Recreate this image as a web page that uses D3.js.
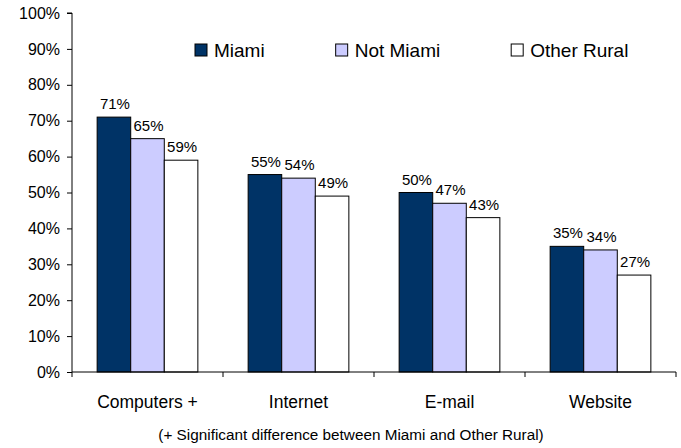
<!DOCTYPE html>
<html>
<head>
<meta charset="utf-8">
<script src="https://cdn.jsdelivr.net/npm/d3@7/dist/d3.min.js"></script>
<style>
  html, body { margin: 0; padding: 0; background: #fff; }
  svg { display: block; font-family: Arial, "Liberation Sans", sans-serif; }
</style>
</head>
<body>
<svg id="chart" width="681" height="448"></svg>
<script>
// ---- Data ----
const categories = ["Computers +", "Internet", "E-mail", "Website"];
const seriesNames = ["Miami", "Not Miami", "Other Rural"];
const miami = [71, 55, 50, 35];
const notMiami = [65, 54, 47, 34];
const otherRural = [59, 49, 43, 27];
const yTicks = [0, 10, 20, 30, 40, 50, 60, 70, 80, 90, 100];
const footnote = "(+ Significant difference between Miami and Other Rural)";

const seriesValues = [miami, notMiami, otherRural];
const colors = ["#003366", "#CCCCFF", "#FFFFFF"];

// ---- Layout ----
const svg = d3.select("#chart");
const mLeft = 72, mRight = 676, mTop = 13, mBottom = 372;

const x = d3.scaleBand().domain(categories).range([mLeft, mRight]).paddingInner(0).paddingOuter(0);
const groupInner = 0.667;
const xs = d3.scaleBand().domain(seriesNames)
  .range([x.bandwidth() * (1 - groupInner) / 2, x.bandwidth() * (1 + groupInner) / 2]);
const y = d3.scaleLinear().domain([0, 100]).range([mBottom, mTop]);

// Y axis
const yAxis = d3.axisLeft(y).tickValues(yTicks).tickSize(5).tickPadding(7)
  .tickFormat(d => d + "%");
const gy = svg.append("g").attr("transform", `translate(${mLeft},0)`).call(yAxis);
gy.select(".domain").attr("stroke", "#000").attr("d", `M-5,${mTop}H0V${mBottom}`);
gy.selectAll(".tick line").attr("stroke", "#000");
gy.selectAll(".tick text").attr("font-size", 16).attr("fill", "#000")
  .attr("font-family", "Arial, 'Liberation Sans', sans-serif");

// Bars
const groups = svg.append("g").selectAll("g")
  .data(categories).join("g")
  .attr("transform", d => `translate(${x(d)},0)`);

groups.each(function(cat, ci) {
  const g = d3.select(this);
  seriesNames.forEach((s, si) => {
    const v = seriesValues[si][ci];
    g.append("rect")
      .attr("x", xs(s))
      .attr("y", y(v))
      .attr("width", xs.bandwidth())
      .attr("height", mBottom - y(v))
      .attr("fill", colors[si])
      .attr("stroke", "#000")
      .attr("stroke-width", 1);
    g.append("text")
      .attr("x", xs(s) + xs.bandwidth() / 2 + 1)
      .attr("y", y(v) - 8)
      .attr("text-anchor", "middle")
      .attr("font-size", 15)
      .attr("fill", "#000")
      .text(v + "%");
  });
});

// X axis
const xAxis = d3.axisBottom(x).tickSize(0).tickPadding(24);
const gx = svg.append("g").attr("transform", `translate(0,${mBottom})`).call(xAxis);
gx.select(".domain").attr("stroke", "#000").attr("d", `M${mLeft},0H${mRight}`);
gx.selectAll(".tick text").attr("font-size", 17.5).attr("fill", "#000")
  .attr("font-family", "Arial, 'Liberation Sans', sans-serif");
const sepTicks = categories.map(c => x(c)).concat([mRight]);
gx.selectAll(".sep").data(sepTicks).join("line")
  .attr("class", "sep")
  .attr("x1", d => d).attr("x2", d => d)
  .attr("y1", 0).attr("y2", 5)
  .attr("stroke", "#000");

// Legend
const legend = svg.append("g");
let lx = 195;
seriesNames.forEach((s, i) => {
  legend.append("rect")
    .attr("x", lx).attr("y", 44)
    .attr("width", 12).attr("height", 12)
    .attr("fill", colors[i]).attr("stroke", "#000");
  const t = legend.append("text")
    .attr("x", lx + 19).attr("y", 57)
    .attr("font-size", 19)
    .attr("fill", "#000")
    .text(s);
  lx = lx + 19 + t.node().getComputedTextLength() + 71;
});

// Footnote
svg.append("text")
  .attr("x", (mLeft + mRight) / 2 - 23)
  .attr("y", 440)
  .attr("text-anchor", "middle")
  .attr("font-size", 15.3)
  .attr("fill", "#000")
  .text(footnote);
</script>
</body>
</html>
